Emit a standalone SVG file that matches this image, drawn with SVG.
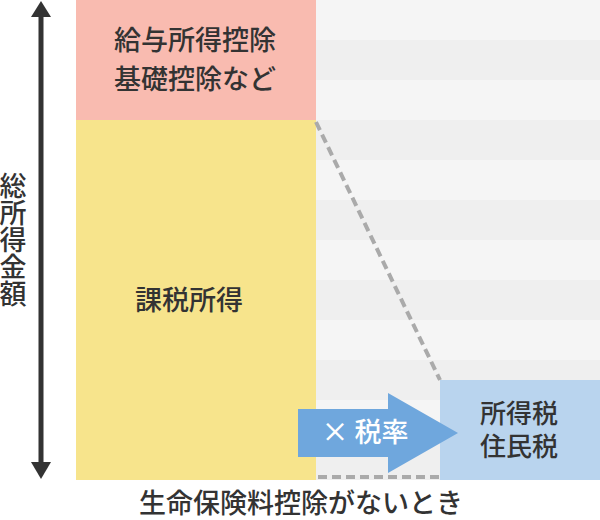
<svg xmlns="http://www.w3.org/2000/svg" width="600" height="520" viewBox="0 0 600 520">
<style>
.t{font-family:"Noto Sans CJK JP","Noto Sans",sans-serif;font-size:27px;font-weight:500;fill:#333;text-anchor:middle}
.s{font-size:26px}
.w{fill:#fff}
.band{fill:#efefef}
.dash{stroke:#aaaaaa;stroke-width:4;stroke-dasharray:9 5;fill:none}
.head{fill:#333}
</style>
<rect width="600" height="520" fill="#fff"/>
<g id="background">
<rect x="316" y="0" width="284" height="480" fill="#f5f5f5"/>
<rect class="band" x="316" y="40" width="284" height="40"/>
<rect class="band" x="316" y="120" width="284" height="40"/>
<rect class="band" x="316" y="200" width="284" height="40"/>
<rect class="band" x="316" y="280" width="284" height="40"/>
<rect class="band" x="316" y="360" width="284" height="40"/>
<rect class="band" x="316" y="440" width="284" height="40"/>
</g>
<g id="deduction">
<rect x="76" y="0" width="240" height="120" fill="#f9bbb0"/>
<text class="t" x="195" y="50">給与所得控除</text>
<text class="t" x="195" y="89">基礎控除など</text>
</g>
<g id="taxable">
<rect x="76" y="120" width="240" height="360" fill="#f7e48c"/>
<text class="t" x="189" y="310">課税所得</text>
</g>
<g id="connectors">
<line class="dash" x1="316" y1="122" x2="440" y2="380"/>
<line class="dash" x1="318" y1="477" x2="440" y2="477"/>
<line x1="41" y1="15" x2="41" y2="465" stroke="#333" stroke-width="5"/>
<path class="head" d="M41,1 L51,17 L31,17 Z"/>
<path class="head" d="M41,479 L51,462 L31,462 Z"/>
</g>
<g id="tax">
<rect x="440" y="380" width="160" height="100" fill="#b9d4ee"/>
<text class="t s" x="519" y="423">所得税</text>
<text class="t s" x="519" y="456">住民税</text>
</g>
<g id="rate">
<path d="M298,409 H388 V393 L458,433 L388,473 V457 H298 Z" fill="#6fa7dd"/>
<text class="t w" x="365" y="442">× 税率</text>
</g>
<g id="total-label">
<text class="t" x="13" y="240" writing-mode="vertical-rl">総所得金額</text>
</g>
<text class="t" x="301" y="513">生命保険料控除がないとき</text>
</svg>
